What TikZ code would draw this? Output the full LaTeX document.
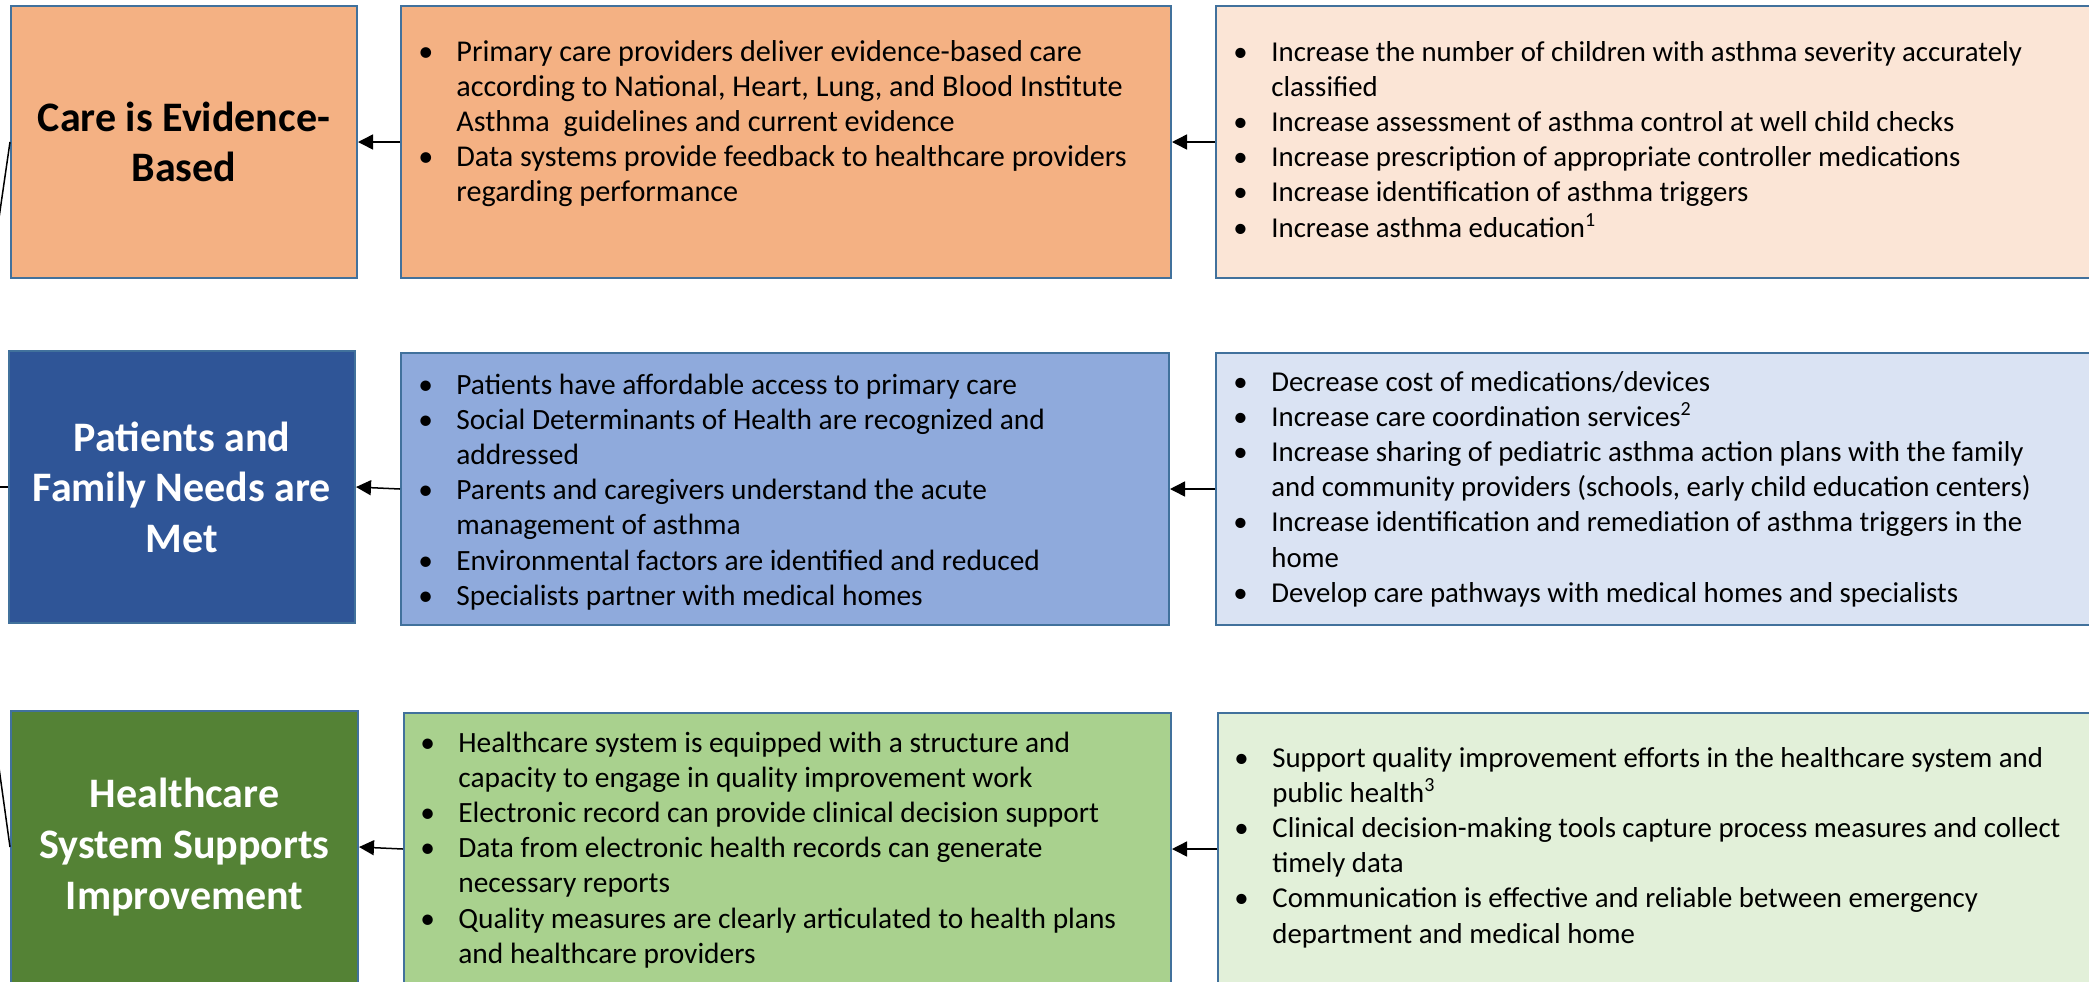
\documentclass[tikz,border=0pt]{standalone}
\usepackage{fontspec}
\setmainfont{Carlito}
\usetikzlibrary{arrows.meta}
\definecolor{bordc}{HTML}{41719C}
\definecolor{orA}{HTML}{F4B183}
\definecolor{orC}{HTML}{FBE5D6}
\definecolor{blA}{HTML}{2F5597}
\definecolor{blB}{HTML}{8FAADC}
\definecolor{blC}{HTML}{DAE3F3}
\definecolor{grA}{HTML}{548235}
\definecolor{grB}{HTML}{A9D18E}
\definecolor{grC}{HTML}{E2F0D9}
\newcommand\bu{\strut\makebox[19pt][l]{•}}
\newcommand\ind{\strut\hspace*{19pt}}
\begin{document}
\begin{tikzpicture}[x=0.5pt,y=-0.5pt,
  box/.style={draw=bordc,line width=1pt,rectangle,anchor=north west,inner sep=0pt},
  title/.style={align=center,inner sep=0pt,font=\fontsize{21}{25.3}\selectfont\bfseries},
  body/.style={align=left,anchor=north west,inner sep=0pt,font=\fontsize{14.4}{17.6}\selectfont},
  bodym/.style={body,font=\fontsize{14.7}{17.6}\selectfont},
  arr/.style={line width=0.75pt,-{Triangle[length=7.5pt,width=7.5pt]}},
  conn/.style={line width=0.75pt}]
\useasboundingbox (0,0) rectangle (2089,981);
\clip (0,0) rectangle (2089,981);
% row 1
\node[box,fill=orA,minimum width=346*0.5pt,minimum height=272*0.5pt] (a1) at (10,5) {};
\node[box,fill=orA,minimum width=770*0.5pt,minimum height=272*0.5pt] (b1) at (400,5) {};
\node[box,fill=orC,minimum width=900*0.5pt,minimum height=272*0.5pt] (c1) at (1215,5) {};
% row 2
\node[box,fill=blA,minimum width=346*0.5pt,minimum height=272*0.5pt] (a2) at (8,350) {};
\node[box,fill=blB,minimum width=768*0.5pt,minimum height=272*0.5pt] (b2) at (400,352) {};
\node[box,fill=blC,minimum width=900*0.5pt,minimum height=272*0.5pt] (c2) at (1215,352) {};
% row 3
\node[box,fill=grA,minimum width=347*0.5pt,minimum height=272*0.5pt] (a3) at (10,710) {};
\node[box,fill=grB,minimum width=767*0.5pt,minimum height=272*0.5pt] (b3) at (403,712) {};
\node[box,fill=grC,minimum width=900*0.5pt,minimum height=272*0.5pt] (c3) at (1217,712) {};
% titles
\node[title,text=black] (ta1) at (a1.center) {Care is Evidence-\\Based};
\node[title,text=white] (ta2) at (a2.center) {Patients and\\Family Needs are\\Met};
\node[title,text=white] (ta3) at (a3.center) {Healthcare\\System Supports\\Improvement};
% body texts
\node[body,font=\fontsize{15.1}{17.6}\selectfont] (tb1) at (418,36) {\bu Primary care providers deliver evidence-based care\\
\ind according to National, Heart, Lung, and Blood Institute\\
\ind Asthma~ guidelines and current evidence\\
\bu Data systems provide feedback to healthcare providers\\
\ind regarding performance};
\node[body] (tc1) at (1233,36) {\bu Increase the number of children with asthma severity accurately\\
\ind classified\\
\bu Increase assessment of asthma control at well child checks\\
\bu Increase prescription of appropriate controller medications\\
\bu Increase identification of asthma triggers\\
\bu Increase asthma education\textsuperscript{1}};
\node[bodym] (tb2) at (418,369) {\bu Patients have affordable access to primary care\\
\bu Social Determinants of Health are recognized and\\
\ind addressed\\
\bu Parents and caregivers understand the acute\\
\ind management of asthma\\
\bu Environmental factors are identified and reduced\\
\bu Specialists partner with medical homes};
\node[body] (tc2) at (1233,366) {\bu Decrease cost of medications/devices\\
\bu Increase care coordination services\textsuperscript{2}\\
\bu Increase sharing of pediatric asthma action plans with the family\\
\ind and community providers (schools, early child education centers)\\
\bu Increase identification and remediation of asthma triggers in the\\
\ind home\\
\bu Develop care pathways with medical homes and specialists};
\node[bodym] (tb3) at (420,727) {\bu Healthcare system is equipped with a structure and\\
\ind capacity to engage in quality improvement work\\
\bu Electronic record can provide clinical decision support\\
\bu Data from electronic health records can generate\\
\ind necessary reports\\
\bu Quality measures are clearly articulated to health plans\\
\ind and healthcare providers};
\node[body] (tc3) at (1234,742) {\bu Support quality improvement efforts in the healthcare system and\\
\ind public health\textsuperscript{3}\\
\bu Clinical decision-making tools capture process measures and collect\\
\ind timely data\\
\bu Communication is effective and reliable between emergency\\
\ind department and medical home};
% arrows
\draw[arr] (b1.west) -- (a1.east);
\draw[arr] (c1.west) -- (b1.east);
\draw[arr] (b2.west) -- (a2.east);
\draw[arr] (c2.west) -- (b2.east);
\draw[arr] (b3.west) -- (a3.east);
\draw[arr] (c3.west) -- (b3.east);
% connectors from off-frame hub
\coordinate (hub) at (-40,487);
\draw[conn] (hub) -- (a1.west);
\draw[conn] (hub) -- (a2.west);
\draw[conn] (hub) -- (a3.west);
\end{tikzpicture}
\end{document}
